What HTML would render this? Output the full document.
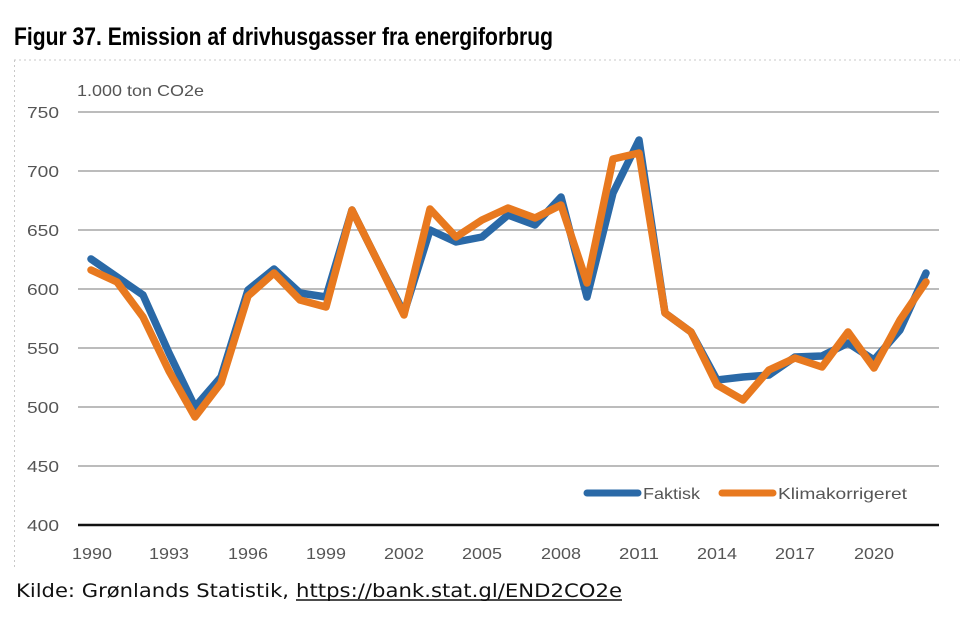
<!DOCTYPE html>
<html><head><meta charset="utf-8"><style>
html,body{margin:0;padding:0;background:#fff;}
svg{display:block;}
</style></head><body>
<svg width="960" height="630" viewBox="0 0 960 630" xmlns="http://www.w3.org/2000/svg">
<rect width="960" height="630" fill="#fff"/>
<text x="14" y="45" font-family="Liberation Sans Narrow, Liberation Sans, sans-serif" font-weight="bold" font-size="25" fill="#000" textLength="539" lengthAdjust="spacingAndGlyphs">Figur 37. Emission af drivhusgasser fra energiforbrug</text>
<line x1="14" y1="60" x2="960" y2="60" stroke="#c8c8c8" stroke-width="1" stroke-dasharray="2,3"/>
<line x1="14.5" y1="60" x2="14.5" y2="567" stroke="#c8c8c8" stroke-width="1" stroke-dasharray="2,3"/>
<g stroke="#a6a6a6" stroke-width="1.5">
<line x1="78" y1="112" x2="939" y2="112"/>
<line x1="78" y1="171" x2="939" y2="171"/>
<line x1="78" y1="230" x2="939" y2="230"/>
<line x1="78" y1="289" x2="939" y2="289"/>
<line x1="78" y1="348" x2="939" y2="348"/>
<line x1="78" y1="407" x2="939" y2="407"/>
<line x1="78" y1="466" x2="939" y2="466"/>
</g>
<line x1="78" y1="525" x2="939" y2="525" stroke="#111" stroke-width="2.5"/>
<g font-family="Liberation Sans, sans-serif" font-size="16" fill="#555">
<text x="27" y="118" textLength="32" lengthAdjust="spacingAndGlyphs">750</text>
<text x="27" y="177" textLength="32" lengthAdjust="spacingAndGlyphs">700</text>
<text x="27" y="236" textLength="32" lengthAdjust="spacingAndGlyphs">650</text>
<text x="27" y="295" textLength="32" lengthAdjust="spacingAndGlyphs">600</text>
<text x="27" y="354" textLength="32" lengthAdjust="spacingAndGlyphs">550</text>
<text x="27" y="413" textLength="32" lengthAdjust="spacingAndGlyphs">500</text>
<text x="27" y="472" textLength="32" lengthAdjust="spacingAndGlyphs">450</text>
<text x="27" y="531" textLength="32" lengthAdjust="spacingAndGlyphs">400</text>
</g>
<text x="77" y="96" font-family="Liberation Sans, sans-serif" font-size="16" fill="#555" textLength="127" lengthAdjust="spacingAndGlyphs">1.000 ton CO2e</text>
<g font-family="Liberation Sans, sans-serif" font-size="16" fill="#555">
<text x="72" y="559" textLength="40" lengthAdjust="spacingAndGlyphs">1990</text>
<text x="149" y="559" textLength="40" lengthAdjust="spacingAndGlyphs">1993</text>
<text x="228" y="559" textLength="40" lengthAdjust="spacingAndGlyphs">1996</text>
<text x="306" y="559" textLength="40" lengthAdjust="spacingAndGlyphs">1999</text>
<text x="384" y="559" textLength="40" lengthAdjust="spacingAndGlyphs">2002</text>
<text x="462" y="559" textLength="40" lengthAdjust="spacingAndGlyphs">2005</text>
<text x="541" y="559" textLength="40" lengthAdjust="spacingAndGlyphs">2008</text>
<text x="619" y="559" textLength="40" lengthAdjust="spacingAndGlyphs">2011</text>
<text x="697" y="559" textLength="40" lengthAdjust="spacingAndGlyphs">2014</text>
<text x="775" y="559" textLength="40" lengthAdjust="spacingAndGlyphs">2017</text>
<text x="854" y="559" textLength="40" lengthAdjust="spacingAndGlyphs">2020</text>
</g>
<polyline fill="none" stroke="#2a69a7" stroke-width="7.5" stroke-linejoin="round" stroke-linecap="round" points="91,259 117,277 143,295 169,353 195,407 221,377 248,290 274,269 300,293 326,297 352,210 378,262 404,313 430,230 456,242 482,237 508,215 535,225 561,197 587,297 613,193 639,140 665,313 691,332 717,380 743,377 769,375 795,357 822,356 848,343 874,360 900,330 926,273"/>
<polyline fill="none" stroke="#e8791f" stroke-width="7.5" stroke-linejoin="round" stroke-linecap="round" points="91,270 117,282 143,317 169,371 195,417 221,383 248,296 274,273 300,300 326,307 352,210 378,262 404,315 430,209 456,237 482,220 508,208 535,218 561,205 587,283 613,159 639,153 665,313 691,332 717,385 743,400 769,370 795,358 822,367 848,332 874,368 900,320 926,282"/>
<line x1="587" y1="493" x2="638" y2="493" stroke="#2a69a7" stroke-width="7" stroke-linecap="round"/>
<text x="643" y="499" font-family="Liberation Sans, sans-serif" font-size="16" fill="#555" textLength="57" lengthAdjust="spacingAndGlyphs">Faktisk</text>
<line x1="722" y1="493" x2="773" y2="493" stroke="#e8791f" stroke-width="7" stroke-linecap="round"/>
<text x="778" y="499" font-family="Liberation Sans, sans-serif" font-size="16" fill="#555" textLength="129" lengthAdjust="spacingAndGlyphs">Klimakorrigeret</text>
<text x="16" y="597" font-family="DejaVu Sans, Liberation Sans, sans-serif" font-size="19" fill="#111" textLength="273" lengthAdjust="spacingAndGlyphs">Kilde: Grønlands Statistik,</text>
<text x="296" y="597" font-family="DejaVu Sans, Liberation Sans, sans-serif" font-size="19" fill="#111" textLength="326" lengthAdjust="spacingAndGlyphs">https://bank.stat.gl/END2CO2e</text>
<line x1="296" y1="600" x2="622" y2="600" stroke="#111" stroke-width="1.5"/>
</svg>
</body></html>
